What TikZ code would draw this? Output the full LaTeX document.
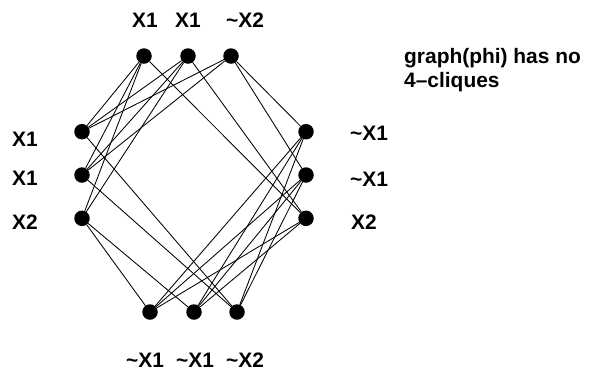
\documentclass[tikz,border=0pt]{standalone}
\usepackage{fontspec}
\setmainfont{Liberation Sans}
\begin{document}
\begin{tikzpicture}[x=1bp, y=-1bp, line cap=round,
    vert/.style={circle, fill=black, inner sep=0pt, minimum size=15.5bp},
    lit/.style={font=\fontsize{21}{24}\selectfont\bfseries, inner sep=0pt},
    edge/.style={line width=0.85bp, black}]

  \useasboundingbox (0,0) rectangle (597,374);

  % ---- clause vertices, each with its literal ------------------------------
  \foreach \n/\x/\lx/\txt in {1/144/145/X1, 2/188/188/X1, 3/231/245/{\textasciitilde X2}}{
    \node[vert] (t\n) at (\x,56) {};
    \node[lit] (tl\n) at (\lx,20) {\txt};}
  \foreach \n/\y/\ly/\txt in {1/131.7/139/X1, 2/175/178/X1, 3/218.3/221.7/X2}{
    \node[vert] (l\n) at (82,\y) {};
    \node[lit] (ll\n) at (25,\ly) {\txt};}
  \foreach \n/\y/\lx/\ly/\txt in {1/131.7/369/133/{\textasciitilde X1},
                                  2/175/369/179/{\textasciitilde X1},
                                  3/218.3/364/221.7/X2}{
    \node[vert] (r\n) at (306,\y) {};
    \node[lit] (rl\n) at (\lx,\ly) {\txt};}
  \foreach \n/\x/\lx/\txt in {1/150/145/{\textasciitilde X1}, 2/194/195/{\textasciitilde X1},
                              3/237/245/{\textasciitilde X2}}{
    \node[vert] (b\n) at (\x,312) {};
    \node[lit] (bl\n) at (\lx,360) {\txt};}

  % ---- edges between consistent literals of neighbouring clauses -----------
  \foreach \a in {1,2}{
    \foreach \b in {1,2,3}{
      \draw[edge] (t\a) -- (l\b);}}
  \foreach \a/\b in {t3/l1, t3/l2, t1/r3, t2/r3, t3/r1, t3/r2,
                     l1/b3, l2/b3, l3/b1, l3/b2, r3/b1, r3/b2}{
    \draw[edge] (\a) -- (\b);}
  \foreach \a in {1,2}{
    \foreach \b in {1,2,3}{
      \draw[edge] (r\a) -- (b\b);}}

  % ---- caption --------------------------------------------------------------
  \node[lit, anchor=north west, align=left] (note) at (404,48)
    {graph(phi) has no\\4--cliques};
\end{tikzpicture}
\end{document}
